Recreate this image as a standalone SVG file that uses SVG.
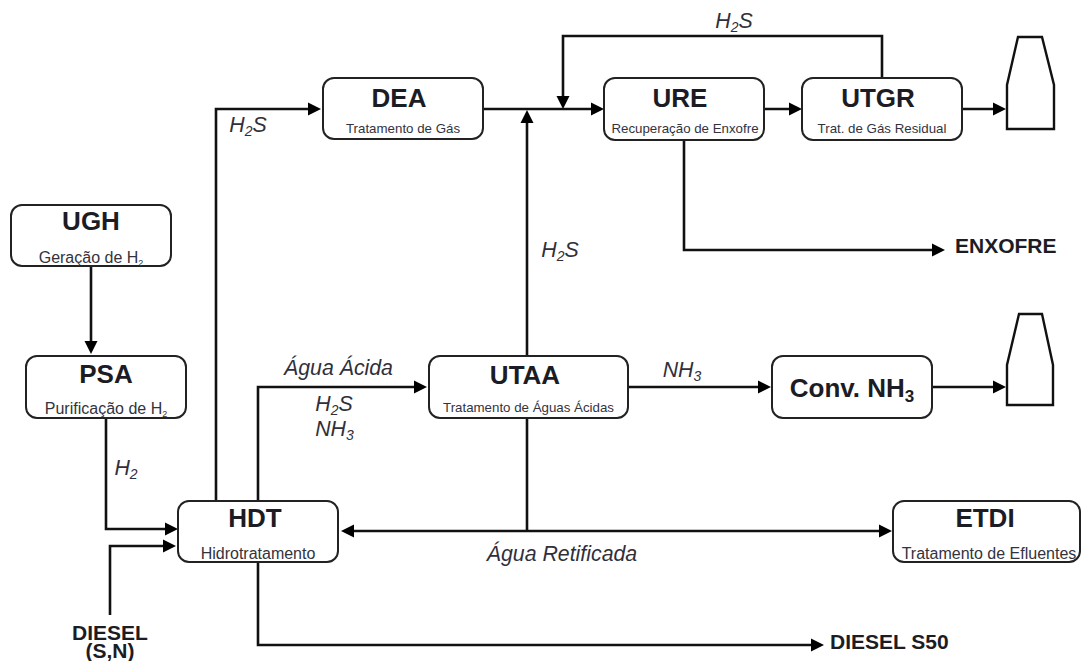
<svg xmlns="http://www.w3.org/2000/svg" width="1081" height="661" viewBox="0 0 1081 661">
<style>
text{font-family:"Liberation Sans",Arial,sans-serif;fill:#1c1c24}
.box{fill:#fff;stroke:#222;stroke-width:2}
.t{font-size:26px;font-weight:bold;text-anchor:middle}
.s{font-size:13.3px;text-anchor:middle;fill:#33333d}
.b{font-size:16px}
.l{font-size:21.3px;font-style:italic;text-anchor:middle;fill:#30303a}
.o{font-size:21px;font-weight:bold}
.c{fill:none;stroke:#111;stroke-width:2.6}
.k{fill:#fff;stroke:#111;stroke-width:2.4}
</style>
<defs><marker id="a" markerUnits="userSpaceOnUse" markerWidth="14" markerHeight="14" refX="9" refY="7" orient="auto-start-reverse"><path d="M0 0.5L13 7L0 13.5Z" fill="#000"/></marker></defs>
<g id="connectors" class="connectors">
<path class="c" marker-end="url(#a)" d="M91 266V350"/>
<path class="c" marker-end="url(#a)" d="M106 418V529H174"/>
<path class="c" marker-end="url(#a)" d="M110 615V546H172"/>
<path class="c" marker-end="url(#a)" d="M216 501V109H317"/>
<path class="c" marker-end="url(#a)" d="M258 501V387H423"/>
<path class="c" marker-end="url(#a)" d="M258 562V645H820"/>
<path class="c" marker-end="url(#a)" d="M483 109H600"/>
<path class="c" marker-end="url(#a)" d="M882 78V36H563V105"/>
<path class="c" marker-end="url(#a)" d="M527 356V114"/>
<path class="c" marker-end="url(#a)" d="M764 109H798"/>
<path class="c" marker-end="url(#a)" d="M962 109H1002"/>
<path class="c" marker-end="url(#a)" d="M684 140V250H941"/>
<path class="c" marker-end="url(#a)" d="M628 387H767"/>
<path class="c" marker-end="url(#a)" d="M932 387H1002"/>
<path class="c" d="M527 418V531"/>
<path class="c" marker-start="url(#a)" marker-end="url(#a)" d="M345 531H888"/>
</g>
<g id="ugh"><rect class="box" x="11" y="205" width="160" height="61" rx="11"/><text class="t" x="91" y="230">UGH</text><text class="s b" x="91" y="263">Geração de H<tspan font-size="9" dy="3">2</tspan></text></g>
<g id="psa"><rect class="box" x="26" y="356" width="160" height="62" rx="11"/><text class="t" x="106" y="383">PSA</text><text class="s b" x="106" y="414">Purificação de H<tspan font-size="9" dy="3">2</tspan></text></g>
<g id="hdt"><rect class="box" x="178" y="501" width="160" height="61" rx="11"/><text class="t" x="255" y="527">HDT</text><text class="s b" x="258" y="559">Hidrotratamento</text></g>
<g id="dea"><rect class="box" x="323" y="78" width="160" height="61" rx="11"/><text class="t" x="399" y="107">DEA</text><text class="s" x="403" y="133">Tratamento de Gás</text></g>
<g id="ure"><rect class="box" x="604" y="78" width="160" height="62" rx="11"/><text class="t" x="680" y="107">URE</text><text class="s" x="685" y="133">Recuperação de Enxofre</text></g>
<g id="utgr"><rect class="box" x="802" y="78" width="160" height="62" rx="11"/><text class="t" x="878" y="107">UTGR</text><text class="s" x="882" y="133">Trat. de Gás Residual</text></g>
<g id="utaa"><rect class="box" x="429" y="356" width="199" height="62" rx="11"/><text class="t" x="525" y="384">UTAA</text><text class="s" x="528.5" y="412">Tratamento de Águas Ácidas</text></g>
<g id="conv"><rect class="box" x="772" y="356" width="160" height="62" rx="11"/><text class="t" x="852" y="397">Conv. NH<tspan font-size="17" dy="5">3</tspan></text></g>
<g id="etdi"><rect class="box" x="893" y="501" width="187" height="61" rx="11"/><text class="t" x="985" y="527">ETDI</text><text class="s b" x="989" y="559">Tratamento de Efluentes</text></g>
<g id="chimney1"><path class="k" d="M1018 37H1042L1054 85V129H1007V85Z"/></g>
<g id="chimney2"><path class="k" d="M1019 314H1042L1053 365V405H1007V365Z"/></g>
<g id="labels">
<text class="l" x="734" y="28">H<tspan font-size="14" dy="4">2</tspan><tspan dy="-4">S</tspan></text>
<text class="l" x="248" y="132">H<tspan font-size="14" dy="4">2</tspan><tspan dy="-4">S</tspan></text>
<text class="l" x="560" y="257">H<tspan font-size="14" dy="4">2</tspan><tspan dy="-4">S</tspan></text>
<text class="l" x="338.500" y="375">Água Ácida</text>
<text class="l" x="334" y="411">H<tspan font-size="14" dy="4">2</tspan><tspan dy="-4">S</tspan></text>
<text class="l" x="334.500" y="436">NH<tspan font-size="14" dy="4">3</tspan></text>
<text class="l" x="682" y="377">NH<tspan font-size="14" dy="4">3</tspan></text>
<text class="l" x="126" y="475">H<tspan font-size="14" dy="4">2</tspan></text>
<text class="l" x="562" y="561" font-size="21.500">Água Retificada</text>
<text class="o" x="955" y="253">ENXOFRE</text>
<text class="o" x="830" y="649">DIESEL S50</text>
<text class="o" x="110" y="640" text-anchor="middle">DIESEL</text>
<text class="o" x="110" y="658" text-anchor="middle">(S,N)</text>
</g>
</svg>
